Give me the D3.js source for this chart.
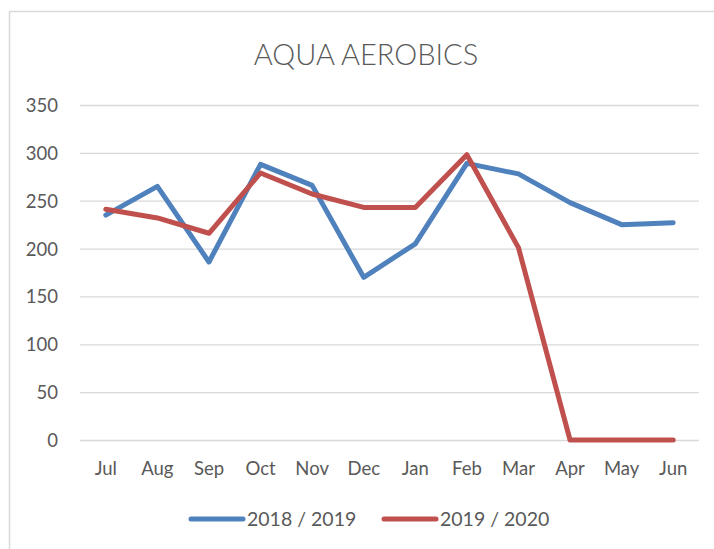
<!DOCTYPE html>
<html>
<head>
<meta charset="utf-8">
<script src="https://cdn.jsdelivr.net/npm/d3@7"></script>
<style>
  body { margin: 0; background: #fff; }
  svg text { font-family: Lato, "Open Sans", sans-serif; fill: #595959; }
</style>
</head>
<body>
<div id="chart"></div>
<script>
const months = ["Jul", "Aug", "Sep", "Oct", "Nov", "Dec", "Jan", "Feb", "Mar", "Apr", "May", "Jun"];
const season1819 = [235, 265, 186, 288, 266, 170, 205, 289, 278, 248, 225, 227];
const season1920 = [241, 232, 216, 279, 257, 243, 243, 298, 201, 0, 0, 0];
const yTicks = [0, 50, 100, 150, 200, 250, 300, 350];
const seriesNames = ["2018 / 2019", "2019 / 2020"];
const seriesColors = ["#4f81bd", "#c0504d"];

const width = 714, height = 549;
const plot = { left: 80, right: 699, top: 105, bottom: 440 };

const svg = d3.select("#chart").append("svg")
    .attr("width", width)
    .attr("height", height);

// chart frame (runs off the right and bottom edges)
svg.append("rect")
    .attr("x", 9.5).attr("y", 11.5)
    .attr("width", 760).attr("height", 600)
    .attr("fill", "#fff")
    .attr("stroke", "#d9d9d9")
    .attr("stroke-width", 1.5);

svg.append("text")
    .attr("x", 366).attr("y", 65)
    .attr("text-anchor", "middle")
    .style("font-size", "29px")
    .style("font-weight", 300)
    .text("AQUA AEROBICS");

const x = d3.scaleBand().domain(months).range([plot.left, plot.right]);
const y = d3.scaleLinear().domain([0, 350]).range([plot.bottom, plot.top]);

// gridlines
svg.append("g")
    .selectAll("line")
    .data(yTicks)
    .join("line")
        .attr("x1", plot.left).attr("x2", plot.right)
        .attr("y1", d => y(d) + 0.5).attr("y2", d => y(d) + 0.5)
        .attr("stroke", "#d9d9d9")
        .attr("stroke-width", 1.3);

const yAxis = svg.append("g")
    .attr("transform", `translate(${plot.left - 22},0)`)
    .call(d3.axisLeft(y).tickValues(yTicks).tickSize(0).tickPadding(0));
yAxis.select(".domain").remove();
yAxis.selectAll("text").style("font-size", "18.5px").attr("dy", "0.35em");

const xAxis = svg.append("g")
    .attr("transform", `translate(0,${plot.bottom})`)
    .call(d3.axisBottom(x).tickSize(0).tickPadding(22));
xAxis.select(".domain").remove();
xAxis.selectAll("text").style("font-size", "18.5px").attr("dy", "0.71em");

const line = d3.line()
    .x((d, i) => x(months[i]) + x.bandwidth() / 2)
    .y(d => y(d));

[season1819, season1920].forEach((values, k) => {
    svg.append("path")
        .datum(values)
        .attr("fill", "none")
        .attr("stroke", seriesColors[k])
        .attr("stroke-width", 5)
        .attr("stroke-linejoin", "round")
        .attr("stroke-linecap", "round")
        .attr("d", line);
});

// legend
const legendX = [191, 384];
const legend = svg.append("g");
seriesNames.forEach((name, k) => {
    legend.append("line")
        .attr("x1", legendX[k]).attr("x2", legendX[k] + 52)
        .attr("y1", 519).attr("y2", 519)
        .attr("stroke", seriesColors[k])
        .attr("stroke-width", 5)
        .attr("stroke-linecap", "round");
    legend.append("text")
        .attr("x", legendX[k] + 56).attr("y", 519)
        .attr("dy", "0.35em")
        .style("font-size", "19.5px")
        .text(name);
});
</script>
</body>
</html>
